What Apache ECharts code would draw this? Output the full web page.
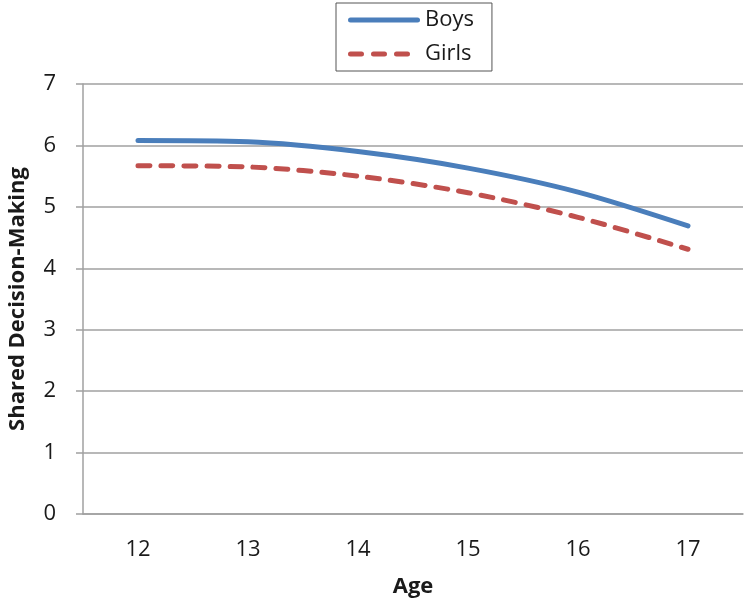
<!DOCTYPE html>
<html><head><meta charset="utf-8">
<script src="https://cdn.jsdelivr.net/npm/echarts@6/dist/echarts.min.js"></script>
<style>html,body{margin:0;padding:0;background:#fff}#c{width:750px;height:606px}</style>
</head><body><div id="c"></div>
<script>
const ages = ['12','13','14','15','16','17'];
const boys = [6.08, 6.06, 5.90, 5.63, 5.24, 4.69];
const girls = [5.67, 5.65, 5.50, 5.23, 4.83, 4.31];
const yTicks = [0,1,2,3,4,5,6,7];

const solidIcon = 'path://M2.5,0 L69.5,0 A2.5,2.5 0 0 1 69.5,5 L2.5,5 A2.5,2.5 0 0 1 2.5,0 Z';
const dash = (x0, x1) => `M${x0+2.5},0 L${x1-2.5},0 A2.5,2.5 0 0 1 ${x1-2.5},5 L${x0+2.5},5 A2.5,2.5 0 0 1 ${x0+2.5},0 Z `;
const dashIcon = 'path://' + dash(0,16) + dash(23,39) + dash(46,62) + 'M72,0 L72,0 L72,5 Z';

const chart = echarts.init(document.getElementById('c'), null, {renderer:'canvas'});
const font = '"Open Sans", "Liberation Sans", sans-serif';
chart.setOption({
  animation:false,
  backgroundColor:'#fff',
  textStyle:{fontFamily:font},
  grid:{left:83, right:7, top:84, bottom:92, containLabel:false, outerBoundsMode:'none'},
  legend:{
    orient:'vertical', left:336, top:3,
    data:[
      {name:'Boys', icon:solidIcon, itemStyle:{color:'#4a7ebb'}},
      {name:'Girls', icon:dashIcon, itemStyle:{color:'#c0504d'}}
    ],
    itemWidth:72, itemHeight:5, itemGap:12,
    padding:[6,18,6,12],
    borderColor:'#555', borderWidth:1,
    textStyle:{fontSize:22, color:'#1a1a1a', fontFamily:font}
  },
  xAxis:{
    type:'category', data:ages, boundaryGap:true,
    name:'Age', nameLocation:'middle', nameGap:62,
    nameTextStyle:{fontSize:22, fontWeight:'bold', color:'#1a1a1a', fontFamily:font},
    axisLine:{lineStyle:{color:'#a0a0a0', width:1.5}},
    axisTick:{show:false},
    axisLabel:{fontSize:22, color:'#1a1a1a', margin:25, fontFamily:font}
  },
  yAxis:{
    type:'value', min:0, max:7, interval:1,
    name:'Shared Decision-Making', nameLocation:'middle', nameGap:54, nameRotate:90,
    nameTextStyle:{fontSize:22, fontWeight:'bold', color:'#1a1a1a', fontFamily:font},
    axisLine:{show:true, lineStyle:{color:'#a0a0a0', width:1.5}},
    axisTick:{show:true, length:7, lineStyle:{color:'#a0a0a0', width:1.5}},
    splitLine:{lineStyle:{color:'#a0a0a0', width:1.5}},
    axisLabel:{fontSize:22, color:'#1a1a1a', margin:20, fontFamily:font, align:'right', padding:[0,7,0,0],
      formatter:v => yTicks.includes(v) ? String(v) : ''}
  },
  series:[
    {name:'Boys', type:'line', data:boys, smooth:0.3, symbol:'none',
     lineStyle:{color:'#4a7ebb', width:5, cap:'round', join:'round'},
     itemStyle:{color:'#4a7ebb'}},
    {name:'Girls', type:'line', data:girls, smooth:0.3, symbol:'none',
     lineStyle:{color:'#c0504d', width:5, type:[12,11], cap:'round', join:'round'},
     itemStyle:{color:'#c0504d'}}
  ]
});
</script></body></html>
